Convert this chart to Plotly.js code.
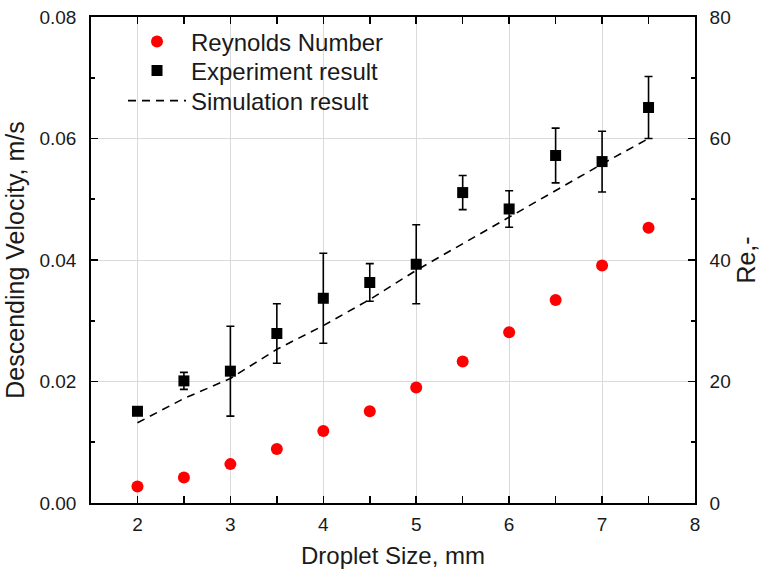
<!DOCTYPE html>
<html>
<head>
<meta charset="utf-8">
<script src="https://cdn.plot.ly/plotly-3.0.1.min.js"></script>
<style>html,body{margin:0;padding:0;background:#fff;}#chart{width:761px;height:578px;}</style>
</head>
<body>
<div id="chart"></div>
<script>
const dropletSize = [2, 2.5, 3, 3.5, 4, 4.5, 5, 5.5, 6, 6.5, 7, 7.5];
const reynolds = [2.7, 4.2, 6.4, 8.9, 11.85, 15.1, 19.0, 23.3, 28.1, 33.4, 39.1, 45.3];
const experiment = [0.0151, 0.0201, 0.0217, 0.0279, 0.0337, 0.0363, 0.0393, 0.0511, 0.0484, 0.0572, 0.0562, 0.0651];
const experimentErr = [0, 0.0014, 0.0074, 0.0049, 0.0074, 0.0031, 0.0065, 0.0028, 0.0030, 0.0045, 0.0050, 0.0051];
const simulation = [0.0132, 0.0172, 0.0205, 0.0253, 0.0292, 0.0335, 0.0383, 0.0427, 0.0471, 0.0515, 0.0558, 0.0600];
const xTicks = [2, 3, 4, 5, 6, 7, 8];
const yTicks = [0, 0.02, 0.04, 0.06, 0.08];
const yTickText = ['0.00', '0.02', '0.04', '0.06', '0.08'];
const y2Ticks = [0, 20, 40, 60, 80];

const font = 'Liberation Sans, Arial, sans-serif';
const txt = '#1a1a1a';

const traces = [
  {
    x: dropletSize, y: reynolds, yaxis: 'y2', type: 'scatter', mode: 'markers',
    name: 'Reynolds Number', legend: 'legend',
    marker: {color: '#ff0000', size: 12, symbol: 'circle'}
  },
  {
    x: dropletSize, y: experiment, type: 'scatter', mode: 'markers',
    name: 'Experiment result', legend: 'legend2',
    marker: {color: '#000000', size: 11, symbol: 'square'},
    error_y: {type: 'data', array: experimentErr, visible: true, color: '#000', thickness: 1.6, width: 4}
  },
  {
    x: dropletSize, y: simulation, type: 'scatter', mode: 'lines',
    name: 'Simulation result', legend: 'legend3',
    line: {color: '#000', width: 1.6, dash: '8px,6px'}
  }
];

function legendAt(yPaper) {
  return {
    x: 0.053, y: yPaper, xanchor: 'left', yanchor: 'middle',
    bgcolor: 'rgba(0,0,0,0)', borderwidth: 0,
    font: {family: font, size: 24, color: txt},
    tracegroupgap: 0, itemwidth: 58
  };
}

const layout = {
  width: 761, height: 578,
  margin: {l: 91, r: 66, t: 17, b: 75},
  paper_bgcolor: '#fff', plot_bgcolor: '#fff',
  font: {family: font, color: txt, size: 19},
  showlegend: true,
  legend: legendAt(0.9486),
  legend2: legendAt(0.8889),
  legend3: legendAt(0.8272),
  xaxis: {
    range: [1.5, 8], tickvals: xTicks, ticktext: xTicks.map(String),
    showgrid: true, gridcolor: '#dadada', gridwidth: 1,
    showline: true, linecolor: '#000', linewidth: 1.8, mirror: 'allticks',
    ticks: 'inside', ticklen: 7, tickwidth: 1.6, tickcolor: '#000',
    minor: {dtick: 0.5, tick0: 0, ticks: 'inside', ticklen: 4, tickwidth: 1.6, tickcolor: '#000', showgrid: false},
    zeroline: false, ticklabelstandoff: 3,
    tickfont: {family: font, size: 19, color: txt},
    title: {text: 'Droplet Size, mm', font: {family: font, size: 24, color: txt}, standoff: 14}
  },
  yaxis: {
    range: [0, 0.08], tickvals: yTicks, ticktext: yTickText,
    showgrid: true, gridcolor: '#dadada', gridwidth: 1,
    showline: true, linecolor: '#000', linewidth: 1.8, mirror: false,
    ticks: 'inside', ticklen: 7, tickwidth: 1.6, tickcolor: '#000',
    minor: {dtick: 0.01, tick0: 0, ticks: 'inside', ticklen: 4, tickwidth: 1.6, tickcolor: '#000', showgrid: false},
    zeroline: false, ticklabelstandoff: 9,
    tickfont: {family: font, size: 19, color: txt},
    title: {text: 'Descending Velocity, m/s', font: {family: font, size: 25, color: txt}, standoff: 8}
  },
  yaxis2: {
    range: [0, 80], tickvals: y2Ticks, ticktext: y2Ticks.map(String),
    overlaying: 'y', side: 'right', showgrid: false,
    showline: true, linecolor: '#000', linewidth: 1.8,
    ticks: 'inside', ticklen: 7, tickwidth: 1.6, tickcolor: '#000',
    minor: {dtick: 10, tick0: 0, ticks: 'inside', ticklen: 4, tickwidth: 1.6, tickcolor: '#000', showgrid: false},
    zeroline: false, ticklabelstandoff: 9,
    tickfont: {family: font, size: 19, color: txt},
    title: {text: 'Re,-', font: {family: font, size: 25, color: txt}, standoff: 8}
  }
};

Plotly.newPlot('chart', traces, layout, {displayModeBar: false, staticPlot: true});
</script>
</body>
</html>
